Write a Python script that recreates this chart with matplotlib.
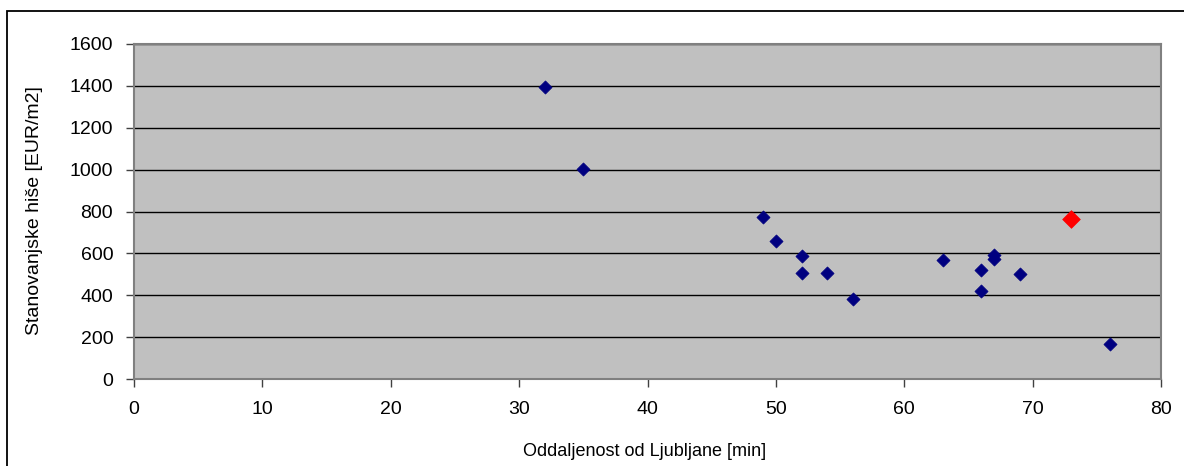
import matplotlib
matplotlib.use("Agg")
import matplotlib.pyplot as plt
from matplotlib.patches import Rectangle

plt.rcParams['font.family'] = ['Liberation Sans', 'DejaVu Sans']

# Data
distance_min = [32, 35, 49, 50, 52, 52, 54, 56, 63, 66, 66, 67, 67, 69, 76]
price_eur_m2 = [1395, 1005, 775, 660, 588, 505, 505, 382, 567, 520, 419, 575, 590, 503, 167]
highlight_x = [73]
highlight_y = [762]

x_ticks = [0, 10, 20, 30, 40, 50, 60, 70, 80]
y_ticks = [0, 200, 400, 600, 800, 1000, 1200, 1400, 1600]
x_label = "Oddaljenost od Ljubljane [min]"
y_label = "Stanovanjske hiše [EUR/m2]"

fig = plt.figure(figsize=(11.84, 4.66), dpi=100)
fig.patch.set_facecolor('white')

# outer frame
fig.patches.append(Rectangle((7/1184, -0.1), 1.2, 1 - 11/466 + 0.1,
                             transform=fig.transFigure, fill=False,
                             edgecolor='black', linewidth=1.3))

ax = fig.add_axes([134/1184, 1 - 379/466, (1161 - 134)/1184, (379 - 44)/466])
ax.set_facecolor('#C0C0C0')

ax.set_xlim(0, 80)
ax.set_ylim(0, 1600)
ax.set_xticks(x_ticks)
ax.set_yticks(y_ticks)
ax.yaxis.grid(True, color='black', linewidth=1.0)
ax.set_axisbelow(True)

for s in ['top', 'right', 'left', 'bottom']:
    ax.spines[s].set_color('#808080')
    ax.spines[s].set_linewidth(1.5)

ax.tick_params(axis='both', direction='out', length=6, width=1, color='#404040',
               labelsize=14, labelcolor='black')
ax.tick_params(axis='x', pad=10)
ax.tick_params(axis='y', pad=9)

ax.scatter(distance_min, price_eur_m2, marker='D', s=6.7**2, color='#000080',
           edgecolors='#000080', linewidths=0.5, zorder=3)
ax.scatter(highlight_x, highlight_y, marker='D', s=9.0**2, color='#FF0000',
           edgecolors='#FF0000', linewidths=0.5, zorder=4)

fig.text(645/1184, 1 - 452/466, x_label, fontsize=13, ha='center', va='center')
fig.text(35/1184, 1 - 211/466, y_label, fontsize=14, ha='center', va='center',
         rotation=90)

fig.savefig("out.png", dpi=100)
